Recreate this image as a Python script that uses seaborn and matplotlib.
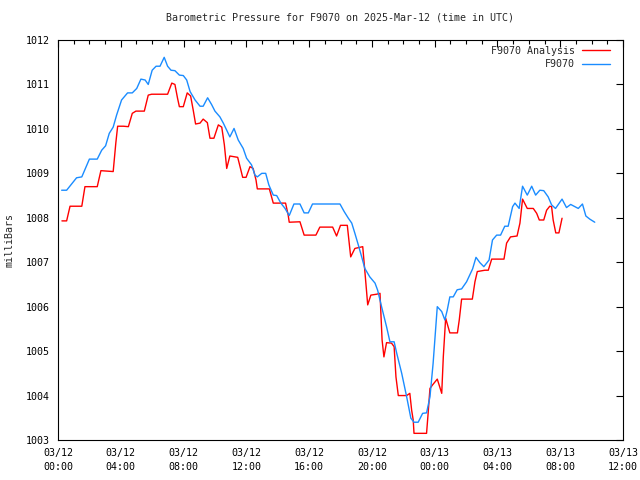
import seaborn as sns
import pandas as pd
import numpy as np
import matplotlib
matplotlib.use("Agg")
import matplotlib.pyplot as plt
import matplotlib.dates as mdates

# minutes after 2025-03-12 00:00 UTC, pressure in mbar
station_min = [14, 33, 71, 91, 120, 150, 167, 182, 196, 211, 224, 243, 266, 284, 301, 317,
               333, 345, 360, 375, 390, 406, 419, 432, 447, 464, 479, 492, 505, 524, 543, 555,
               572, 587, 600, 619, 632, 645, 657, 673, 689, 708, 721, 740, 753, 762, 779, 794,
               806, 823, 836, 852, 868, 884, 902, 925, 941, 957, 973, 1078, 1094, 1110, 1123,
               1135, 1148, 1161, 1173, 1192, 1212, 1222, 1237, 1256, 1269, 1285, 1295, 1314,
               1333, 1349, 1361, 1377, 1394, 1409, 1422, 1434, 1450, 1467, 1479, 1488, 1498,
               1511, 1526, 1543, 1562, 1585, 1598, 1613, 1628, 1648, 1661, 1677, 1692, 1708,
               1721, 1738, 1747, 1763, 1776, 1794, 1811, 1826, 1842, 1857, 1874, 1887, 1902,
               1927, 1944, 1960, 1989, 2005, 2018, 2033, 2052]
station_p = [1008.62, 1008.62, 1008.90, 1008.92, 1009.32, 1009.32, 1009.52, 1009.62, 1009.90,
             1010.04, 1010.31, 1010.65, 1010.81, 1010.81, 1010.91, 1011.12, 1011.10, 1011.00,
             1011.32, 1011.41, 1011.41, 1011.61, 1011.41, 1011.32, 1011.31, 1011.21, 1011.20,
             1011.10, 1010.84, 1010.65, 1010.51, 1010.51, 1010.70, 1010.55, 1010.40, 1010.27,
             1010.13, 1009.97, 1009.82, 1010.01, 1009.75, 1009.56, 1009.34, 1009.19, 1008.96,
             1008.92, 1009.00, 1009.00, 1008.74, 1008.51, 1008.50, 1008.33, 1008.21, 1008.05,
             1008.31, 1008.31, 1008.11, 1008.11, 1008.31, 1008.31, 1008.14, 1007.99, 1007.88,
             1007.65, 1007.39, 1007.12, 1006.86, 1006.67, 1006.53, 1006.37, 1006.00, 1005.55,
             1005.21, 1005.21, 1004.95, 1004.50, 1003.97, 1003.49, 1003.40, 1003.40, 1003.60,
             1003.61, 1003.97, 1004.72, 1006.00, 1005.89, 1005.70, 1005.92, 1006.22, 1006.22,
             1006.38, 1006.40, 1006.56, 1006.85, 1007.11, 1006.99, 1006.90, 1007.05, 1007.50,
             1007.61, 1007.61, 1007.81, 1007.81, 1008.25, 1008.33, 1008.21, 1008.71, 1008.51,
             1008.71, 1008.51, 1008.62, 1008.61, 1008.47, 1008.29, 1008.21, 1008.42, 1008.23,
             1008.30, 1008.21, 1008.31, 1008.04, 1007.97, 1007.90]

analysis_min = [15, 33, 46, 91, 103, 150, 164, 211, 221, 228, 250, 269, 284, 298, 330, 345,
                358, 419, 435, 447, 457, 464, 479, 494, 507, 517, 526, 543, 555, 571, 581, 596,
                613, 626, 636, 645, 657, 687, 696, 706, 719, 734, 746, 757, 762, 808, 823, 870,
                880, 884, 925, 941, 986, 1001, 1050, 1065, 1080, 1106, 1112, 1119, 1135, 1165,
                1177, 1184, 1196, 1218, 1231, 1239, 1246, 1256, 1275, 1285, 1292, 1301, 1333,
                1345, 1352, 1358, 1361, 1409, 1415, 1422, 1432, 1450, 1467, 1473, 1482, 1498,
                1527, 1534, 1543, 1584, 1594, 1603, 1632, 1645, 1658, 1705, 1715, 1730, 1755,
                1766, 1776, 1794, 1817, 1830, 1840, 1857, 1868, 1880, 1887, 1893, 1903, 1915,
                1927]
analysis_p = [1007.93, 1007.93, 1008.26, 1008.26, 1008.70, 1008.70, 1009.06, 1009.04, 1009.68,
              1010.06, 1010.06, 1010.05, 1010.35, 1010.40, 1010.40, 1010.76, 1010.78, 1010.78,
              1011.03, 1011.00, 1010.69, 1010.50, 1010.50, 1010.81, 1010.74, 1010.42, 1010.11,
              1010.13, 1010.22, 1010.14, 1009.79, 1009.79, 1010.09, 1010.04, 1009.64, 1009.11,
              1009.39, 1009.36, 1009.15, 1008.91, 1008.91, 1009.15, 1009.11, 1008.85, 1008.65,
              1008.65, 1008.33, 1008.33, 1008.06, 1007.90, 1007.91, 1007.61, 1007.61, 1007.79,
              1007.79, 1007.59, 1007.83, 1007.83, 1007.50, 1007.12, 1007.31, 1007.35, 1006.53,
              1006.04, 1006.26, 1006.28, 1006.30, 1005.25, 1004.87, 1005.19, 1005.18, 1005.10,
              1004.42, 1004.00, 1004.00, 1004.05, 1003.67, 1003.45, 1003.15, 1003.15, 1003.60,
              1004.16, 1004.24, 1004.37, 1004.05, 1004.87, 1005.74, 1005.41, 1005.41, 1005.70,
              1006.17, 1006.17, 1006.56, 1006.79, 1006.82, 1006.82, 1007.07, 1007.07, 1007.43,
              1007.57, 1007.59, 1007.88, 1008.42, 1008.21, 1008.21, 1008.10, 1007.95, 1007.95,
              1008.17, 1008.26, 1008.25, 1007.95, 1007.66, 1007.66, 1007.99]

t0 = pd.Timestamp("2025-03-12 00:00")
df_station = pd.DataFrame({"time": t0 + pd.to_timedelta(station_min, unit="min"),
                           "pressure": station_p})
df_analysis = pd.DataFrame({"time": t0 + pd.to_timedelta(analysis_min, unit="min"),
                            "pressure": analysis_p})

sns.set_style("white")
plt.rcParams["font.family"] = ["DejaVu Sans Mono"]
fs = 7.2

fig = plt.figure(figsize=(6.4, 4.8), dpi=100)
ax = fig.add_axes([58 / 640, 40 / 480, 565 / 640, 400 / 480])

sns.lineplot(data=df_analysis, x="time", y="pressure", ax=ax, color="#ff0000",
             linewidth=1.0, label="F9070 Analysis")
sns.lineplot(data=df_station, x="time", y="pressure", ax=ax, color="#1a8cff",
             linewidth=1.0, label="F9070")

ax.set_xlim(t0, t0 + pd.Timedelta(hours=36))
ax.set_ylim(1003, 1012)
ax.set_yticks(np.arange(1003, 1013, 1))
ax.xaxis.set_major_locator(mdates.HourLocator(byhour=[0, 4, 8, 12, 16, 20]))
ax.xaxis.set_minor_locator(mdates.HourLocator())
ax.xaxis.set_major_formatter(mdates.DateFormatter("%m/%d\n%H:%M"))

ax.tick_params(which="both", direction="in", top=True, right=True, labelsize=fs,
               colors="black", width=0.8)
ax.tick_params(which="major", length=5, pad=6)
ax.tick_params(which="minor", length=3)
for lbl in ax.get_xticklabels():
    lbl.set_linespacing(1.4)
for s in ax.spines.values():
    s.set_color("black")
    s.set_linewidth(0.8)

ax.set_xlabel("")
ax.set_ylabel("milliBars", fontsize=fs, labelpad=8)
ax.set_title("Barometric Pressure for F9070 on 2025-Mar-12 (time in UTC)",
             fontsize=fs, pad=14)

# legend sits inside, top right, text before the line sample
ax.legend(loc="upper right", bbox_to_anchor=(0.982, 0.9925), frameon=False, fontsize=fs,
          markerfirst=False, handlelength=2.8, handletextpad=0.7, borderaxespad=0.0,
          borderpad=0.3, labelspacing=0.35)

fig.savefig("out.png", dpi=100)
